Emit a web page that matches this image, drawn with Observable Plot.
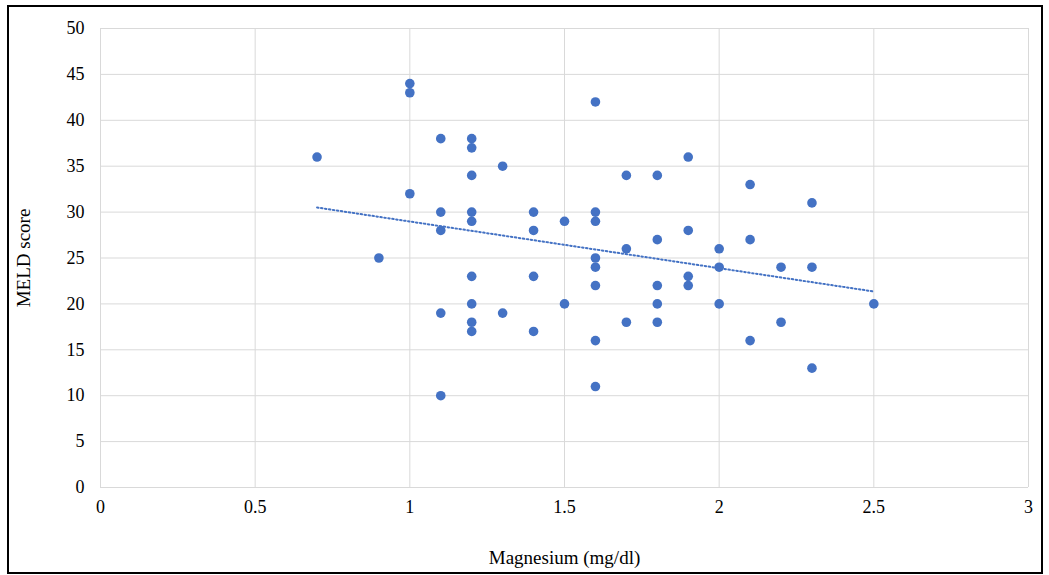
<!DOCTYPE html>
<html>
<head>
<meta charset="utf-8">
<script src="https://cdn.jsdelivr.net/npm/d3@7"></script>
<script src="https://cdn.jsdelivr.net/npm/@observablehq/plot@0.6"></script>
<style>
  html, body { margin: 0; padding: 0; background: #fff; }
  #wrap { position: relative; width: 1049px; height: 575px; }
  #frame { position: absolute; left: 7px; top: 5px; width: 1032px; height: 565px; border: 2px solid #000; pointer-events: none; }
  #wrap svg text { font-family: 'Liberation Serif', 'Times New Roman', serif; }
</style>
</head>
<body>
<div id="wrap"><div id="frame"></div></div>
<script>
const magnesium = [0.7, 0.9, 1, 1, 1, 1.1, 1.1, 1.1, 1.1, 1.1,
  1.2, 1.2, 1.2, 1.2, 1.2, 1.2, 1.2, 1.2, 1.2, 1.3, 1.3,
  1.4, 1.4, 1.4, 1.4, 1.5, 1.5,
  1.6, 1.6, 1.6, 1.6, 1.6, 1.6, 1.6, 1.6,
  1.7, 1.7, 1.7, 1.8, 1.8, 1.8, 1.8, 1.8,
  1.9, 1.9, 1.9, 1.9, 2, 2, 2, 2.1, 2.1, 2.1, 2.2, 2.2,
  2.3, 2.3, 2.3, 2.5];
const meld = [36, 25, 44, 43, 32, 38, 30, 28, 19, 10,
  38, 37, 34, 30, 29, 23, 20, 18, 17, 35, 19,
  30, 28, 23, 17, 29, 20,
  42, 30, 29, 25, 24, 22, 16, 11,
  34, 26, 18, 34, 27, 22, 20, 18,
  36, 28, 23, 22, 26, 24, 20, 33, 27, 16, 24, 18,
  31, 24, 13, 20];
// linear trendline end points as drawn in the reference
const trendX = [0.7, 2.5];
const trendY = [30.5, 21.35];
const xTicks = [0, 0.5, 1, 1.5, 2, 2.5, 3];
const yTicks = [0, 5, 10, 15, 20, 25, 30, 35, 40, 45, 50];

const data = magnesium.map((m, i) => ({x: m, y: meld[i]}));
const trend = trendX.map((x, i) => ({x, y: trendY[i]}));
const blue = "#4472c4";
const grid = "#d9d9d9";
const serif = "'Liberation Serif', 'Times New Roman', serif";

const chart = Plot.plot({
  width: 1049,
  height: 575,
  marginLeft: 100,
  marginRight: 21,
  marginTop: 28,
  marginBottom: 88,
  style: {fontFamily: serif, fontSize: "18px", color: "#000", background: "transparent"},
  x: {domain: [0, 3], ticks: xTicks},
  y: {domain: [0, 50], ticks: yTicks},
  marks: [
    Plot.ruleX(xTicks, {stroke: grid, strokeWidth: 1}),
    Plot.ruleY(yTicks, {stroke: grid, strokeWidth: 1}),
    Plot.axisX(xTicks, {tickSize: 0, tickPadding: 13, tickFormat: d => String(d), label: null, fontSize: 18, fontFamily: serif}),
    Plot.axisX({ticks: [], tickSize: 0, label: "Magnesium (mg/dl)", labelAnchor: "center", labelArrow: "none", labelOffset: 76, fontSize: 19, fontFamily: serif}),
    Plot.axisY(yTicks, {tickSize: 0, tickPadding: 16, tickFormat: d => String(d), label: null, fontSize: 18, fontFamily: serif}),
    Plot.axisY({ticks: [], tickSize: 0, label: "MELD score", labelAnchor: "center", labelArrow: "none", labelOffset: 84, fontSize: 19, fontFamily: serif}),
    Plot.line(trend, {x: "x", y: "y", stroke: blue, strokeWidth: 2, strokeDasharray: "1.5,2.5"}),
    Plot.dot(data, {x: "x", y: "y", r: 4.8, fill: blue, stroke: "none"})
  ]
});
document.getElementById("wrap").prepend(chart);
chart.style.position = "absolute";
chart.style.left = "0";
chart.style.top = "0";
</script>
</body>
</html>
